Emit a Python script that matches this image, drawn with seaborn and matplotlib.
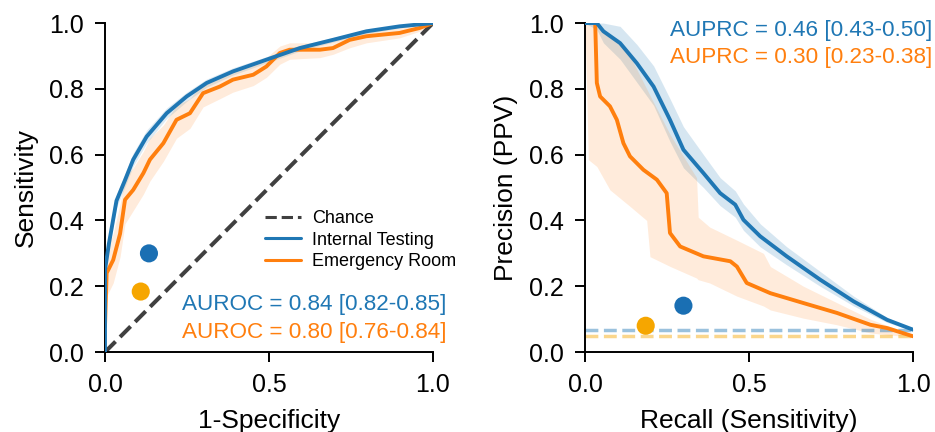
import matplotlib
matplotlib.use('Agg')
import matplotlib.pyplot as plt
import seaborn as sns
import numpy as np

# ---- ROC data ----
roc_int_fpr = [0.0, 0.0, 0.012, 0.035, 0.06, 0.086, 0.127, 0.188, 0.249, 0.31, 0.39, 0.49, 0.594, 0.695, 0.797, 0.898, 1.0]
roc_int_tpr = [0.0, 0.25, 0.33, 0.46, 0.52, 0.585, 0.655, 0.726, 0.777, 0.818, 0.853, 0.888, 0.924, 0.949, 0.975, 0.99, 1.0]
roc_int_lo  = [0.0, 0.23, 0.31, 0.44, 0.50, 0.565, 0.635, 0.71, 0.762, 0.805, 0.842, 0.878, 0.915, 0.942, 0.968, 0.985, 1.0]
roc_int_hi  = [0.0, 0.27, 0.35, 0.48, 0.54, 0.605, 0.675, 0.742, 0.79, 0.83, 0.864, 0.897, 0.932, 0.956, 0.98, 0.994, 1.0]

roc_er_fpr = [0.0, 0.005, 0.025, 0.046, 0.061, 0.086, 0.117, 0.137, 0.178, 0.218, 0.259, 0.299, 0.35, 0.39, 0.452, 0.492, 0.533, 0.563, 0.655, 0.695, 0.746, 0.797, 0.898, 0.959, 1.0]
roc_er_tpr = [0.078, 0.24, 0.28, 0.36, 0.463, 0.493, 0.544, 0.585, 0.635, 0.706, 0.726, 0.787, 0.807, 0.828, 0.843, 0.868, 0.909, 0.919, 0.919, 0.924, 0.949, 0.96, 0.97, 0.985, 1.0]
roc_er_lo  = [0.05, 0.17, 0.21, 0.29, 0.39, 0.43, 0.48, 0.52, 0.58, 0.65, 0.68, 0.745, 0.77, 0.79, 0.81, 0.835, 0.875, 0.89, 0.895, 0.905, 0.925, 0.94, 0.955, 0.975, 1.0]
roc_er_hi  = [0.12, 0.31, 0.36, 0.45, 0.53, 0.56, 0.61, 0.65, 0.69, 0.75, 0.77, 0.82, 0.84, 0.86, 0.875, 0.895, 0.93, 0.94, 0.94, 0.945, 0.965, 0.975, 0.985, 0.995, 1.0]

# operating points (1-spec, sens) and (recall, precision)
roc_pts_x = [0.134, 0.109]
roc_pts_y = [0.30, 0.184]
pr_pts_x = [0.30, 0.185]
pr_pts_y = [0.141, 0.08]

# ---- PR data ----
pr_int_rec  = [0.0, 0.036, 0.056, 0.107, 0.158, 0.209, 0.259, 0.3, 0.361, 0.412, 0.458, 0.483, 0.534, 0.615, 0.717, 0.819, 0.921, 1.0]
pr_int_prec = [1.0, 1.0, 0.975, 0.939, 0.878, 0.807, 0.706, 0.615, 0.544, 0.483, 0.448, 0.402, 0.352, 0.291, 0.22, 0.154, 0.098, 0.068]
pr_int_hi   = [1.0, 1.0, 1.0, 0.99, 0.935, 0.87, 0.77, 0.685, 0.6, 0.53, 0.49, 0.45, 0.39, 0.32, 0.245, 0.17, 0.105, 0.07]
pr_int_lo   = [1.0, 0.98, 0.94, 0.89, 0.82, 0.75, 0.64, 0.56, 0.5, 0.445, 0.41, 0.37, 0.32, 0.265, 0.2, 0.14, 0.09, 0.065]

pr_er_rec  = [0.0, 0.031, 0.036, 0.046, 0.076, 0.097, 0.117, 0.137, 0.178, 0.219, 0.249, 0.259, 0.29, 0.361, 0.443, 0.463, 0.493, 0.565, 0.666, 0.768, 0.87, 0.921, 1.0]
pr_er_prec = [1.0, 1.0, 0.818, 0.777, 0.747, 0.706, 0.635, 0.595, 0.554, 0.524, 0.483, 0.362, 0.321, 0.291, 0.276, 0.26, 0.21, 0.179, 0.149, 0.119, 0.083, 0.073, 0.048]
pr_er_band_x = [0.0, 0.01, 0.036, 0.076, 0.137, 0.188, 0.198, 0.26, 0.34, 0.345, 0.38, 0.463, 0.544, 0.565, 0.666, 0.768, 0.87, 0.95, 1.0]
pr_er_lo     = [1.0, 0.585, 0.564, 0.493, 0.443, 0.40, 0.29, 0.26, 0.225, 0.22, 0.21, 0.17, 0.14, 0.128, 0.103, 0.083, 0.058, 0.05, 0.048]
pr_er_hi     = [1.0, 1.0, 1.0, 0.965, 0.9, 0.8, 0.78, 0.66, 0.53, 0.41, 0.38, 0.34, 0.30, 0.26, 0.2, 0.15, 0.1, 0.07, 0.05]

prevalence = [0.068, 0.048]

auroc_txt = ["AUROC = 0.84 [0.82-0.85]", "AUROC = 0.80 [0.76-0.84]"]
auprc_txt = ["AUPRC = 0.46 [0.43-0.50]", "AUPRC = 0.30 [0.23-0.38]"]
names = ["Internal Testing", "Emergency Room"]

BLUE = '#1f77b4'
ORANGE = '#ff7f0e'
DOT_BLUE = '#1a6fb3'
DOT_ORANGE = '#f6a600'

sns.set_style('ticks')
plt.rcParams['font.family'] = ['Liberation Sans', 'DejaVu Sans']
plt.rcParams['axes.linewidth'] = 1.4
plt.rcParams['xtick.major.width'] = 1.4
plt.rcParams['ytick.major.width'] = 1.4
plt.rcParams['xtick.major.size'] = 7
plt.rcParams['ytick.major.size'] = 7
plt.rcParams['xtick.labelsize'] = 18
plt.rcParams['ytick.labelsize'] = 18
plt.rcParams['axes.labelsize'] = 19
plt.rcParams['axes.edgecolor'] = 'black'
plt.rcParams['xtick.color'] = 'black'
plt.rcParams['ytick.color'] = 'black'
plt.rcParams['text.color'] = 'black'
plt.rcParams['axes.labelcolor'] = 'black'

fig = plt.figure(figsize=(9.35, 4.32), dpi=100)
ax1 = fig.add_axes([0.1123, 0.185, 0.3508, 0.7616])
ax2 = fig.add_axes([0.6257, 0.185, 0.3508, 0.7616])

# ---- ROC panel ----
ax1.plot([0, 1], [0, 1], ls='--', color='#404040', lw=2.9, label='Chance', zorder=1)
ax1.fill_between(roc_int_fpr, roc_int_lo, roc_int_hi, color=BLUE, alpha=0.15, lw=0)
ax1.fill_between(roc_er_fpr, roc_er_lo, roc_er_hi, color=ORANGE, alpha=0.15, lw=0)
sns.lineplot(x=roc_int_fpr, y=roc_int_tpr, sort=False, estimator=None, color=BLUE, lw=2.8, label=names[0], ax=ax1, zorder=3)
sns.lineplot(x=roc_er_fpr, y=roc_er_tpr, sort=False, estimator=None, color=ORANGE, lw=2.8, label=names[1], ax=ax1, zorder=2)
sns.scatterplot(x=roc_pts_x, y=roc_pts_y, hue=[0, 1], palette=[DOT_BLUE, DOT_ORANGE], s=170, edgecolor='none', legend=False, ax=ax1, zorder=4)

ax1.text(0.235, 0.146, auroc_txt[0], color=BLUE, fontsize=16.2, va='center')
ax1.text(0.235, 0.061, auroc_txt[1], color=ORANGE, fontsize=16.2, va='center')
leg = ax1.legend(loc='center left', bbox_to_anchor=(0.488, 0.34), frameon=False, fontsize=13,
                 borderpad=0, borderaxespad=0, labelspacing=0.25, handlelength=2.0, handletextpad=0.6)
for h in leg.get_lines():
    h.set_linewidth(2.2)

ax1.set_xlim(0, 1)
ax1.set_ylim(0, 1)
ax1.set_xticks([0, 0.5, 1.0])
ax1.set_yticks([0, 0.2, 0.4, 0.6, 0.8, 1.0])
ax1.set_xticklabels(['0.0', '0.5', '1.0'])
ax1.set_xlabel('1-Specificity', labelpad=9)
ax1.set_ylabel('Sensitivity', labelpad=8)

# ---- PR panel ----
ax2.fill_between(pr_int_rec, pr_int_lo, pr_int_hi, color=BLUE, alpha=0.18, lw=0)
ax2.fill_between(pr_er_band_x, pr_er_lo, pr_er_hi, color=ORANGE, alpha=0.15, lw=0)
sns.lineplot(x=pr_int_rec, y=pr_int_prec, sort=False, estimator=None, color=BLUE, lw=2.8, ax=ax2, zorder=3)
sns.lineplot(x=pr_er_rec, y=pr_er_prec, sort=False, estimator=None, color=ORANGE, lw=2.8, ax=ax2, zorder=2)
ax2.axhline(prevalence[0], color=BLUE, alpha=0.45, ls='--', lw=2.5, zorder=1)
ax2.axhline(prevalence[1], color=DOT_ORANGE, alpha=0.45, ls='--', lw=2.5, zorder=1)
sns.scatterplot(x=pr_pts_x, y=pr_pts_y, hue=[0, 1], palette=[DOT_BLUE, DOT_ORANGE], s=170, edgecolor='none', legend=False, ax=ax2, zorder=4)

ax2.text(0.26, 0.976, auprc_txt[0], color=BLUE, fontsize=16.2, va='center')
ax2.text(0.26, 0.894, auprc_txt[1], color=ORANGE, fontsize=16.2, va='center')

ax2.set_xlim(0, 1)
ax2.set_ylim(0, 1)
ax2.set_xticks([0, 0.5, 1.0])
ax2.set_yticks([0, 0.2, 0.4, 0.6, 0.8, 1.0])
ax2.set_xticklabels(['0.0', '0.5', '1.0'])
ax2.set_xlabel('Recall (Sensitivity)', labelpad=9)
ax2.set_ylabel('Precision (PPV)', labelpad=8)

for ax in (ax1, ax2):
    sns.despine(ax=ax)
    ax.tick_params(pad=8)

fig.savefig('out.png', dpi=100)
